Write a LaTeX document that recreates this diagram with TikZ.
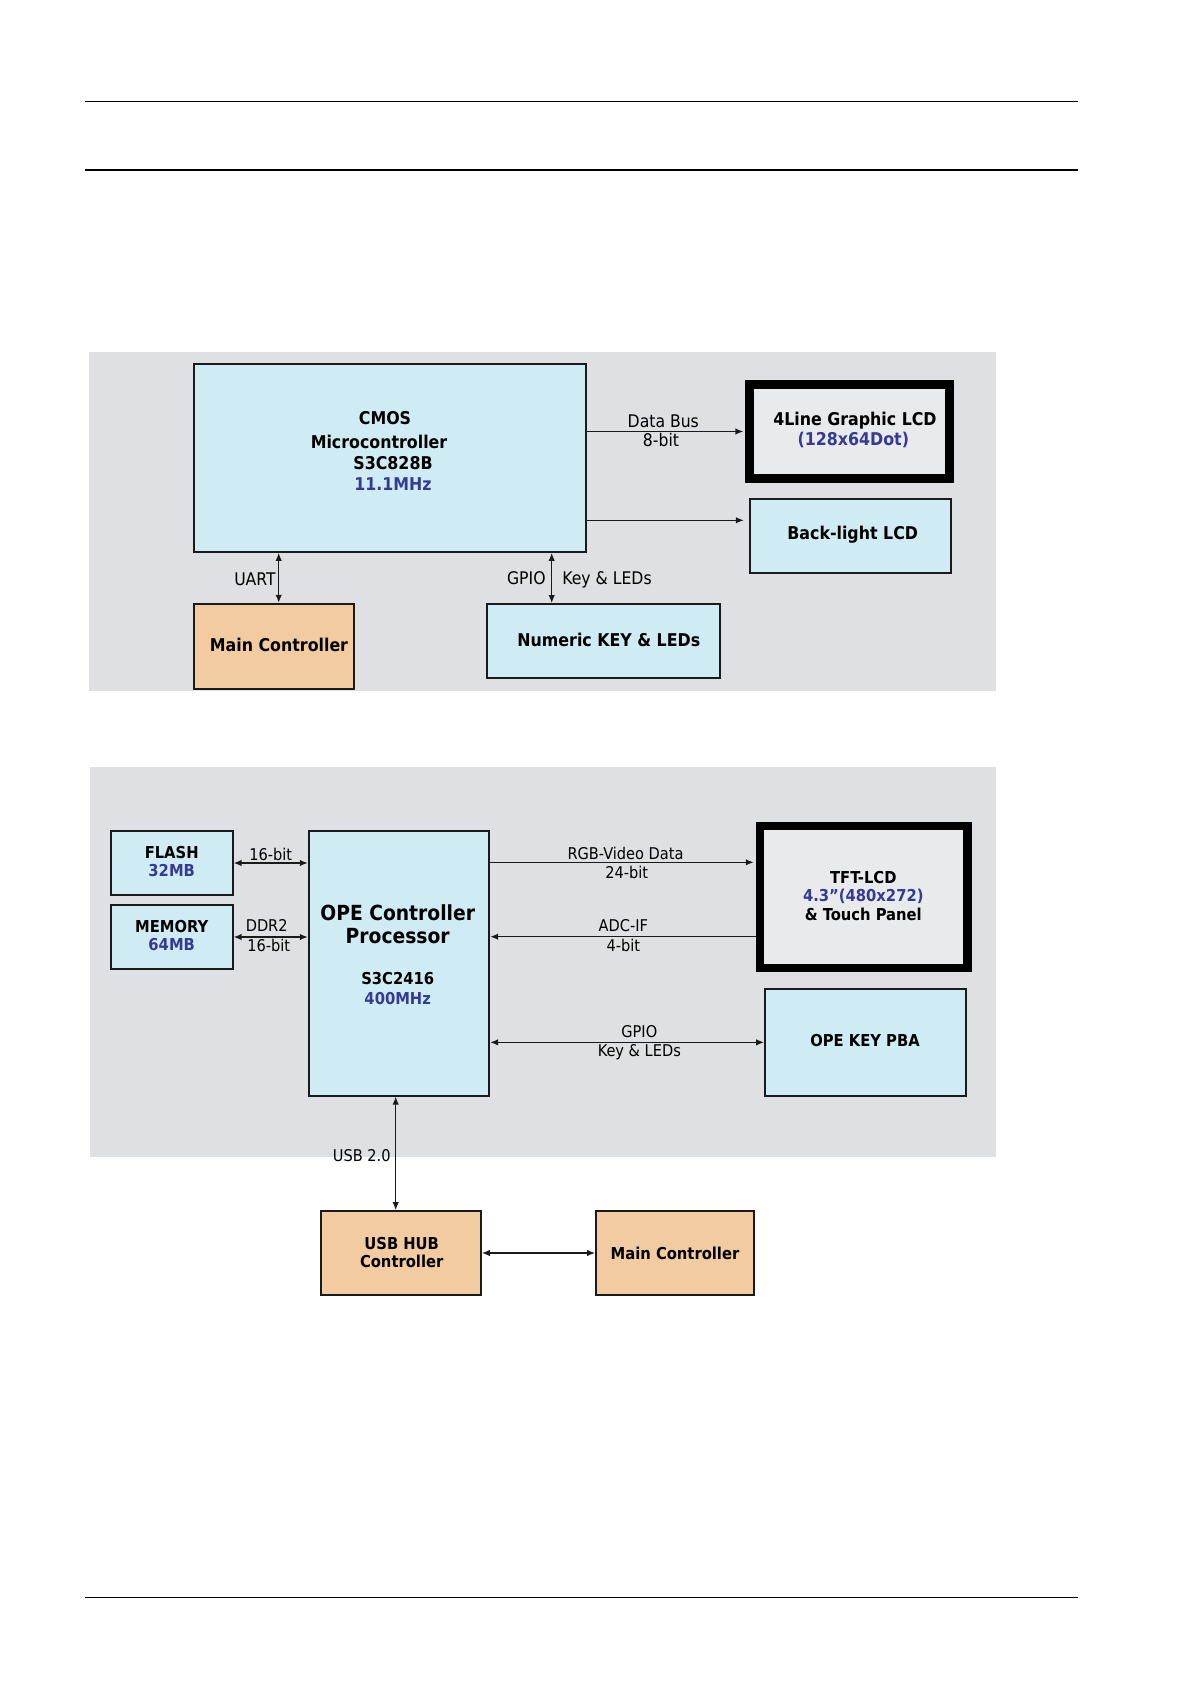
\documentclass[tikz,border=0pt]{standalone}
\usepackage{fontspec}
\setmainfont{DejaVu Sans Condensed}
\usetikzlibrary{arrows.meta,fit,calc}
\definecolor{panelgray}{HTML}{DFE0E4}
\definecolor{boxblue}{HTML}{CFECF4}
\definecolor{boxpeach}{HTML}{F2CBA0}
\definecolor{lcdgray}{HTML}{E9EAEC}
\definecolor{txtblue}{HTML}{343A96}
\definecolor{linedark}{HTML}{1A1A1A}
\begin{document}
\begin{tikzpicture}[x=0.5pt,y=-0.5pt,
  panel/.style={fill=panelgray, draw=none, inner sep=0pt},
  bbox/.style={draw=linedark, line width=0.85pt, fill=boxblue, inner sep=0pt},
  pbox/.style={bbox, fill=boxpeach},
  lcdbox/.style={draw=black, line width=4.3pt, fill=lcdgray, inner sep=0pt},
  conn/.style={line width=0.65pt, draw=linedark},
  >={Latex[length=4pt,width=3.2pt]},
  tb/.style={font=\bfseries\fontsize{8.8}{11}\selectfont, inner sep=0pt},
  bb/.style={font=\bfseries\fontsize{8.2}{9}\selectfont, inner sep=0pt},
  ob/.style={font=\bfseries\fontsize{10.4}{12}\selectfont, inner sep=0pt},
  lt/.style={font=\fontsize{8.7}{9.5}\selectfont, inner sep=0pt},
  lb/.style={font=\fontsize{8.1}{9.5}\selectfont, inner sep=0pt},
  pageline/.style={line width=0.6pt, draw=black}]

\fill[white] (0,0) rectangle (1191,1684);
\useasboundingbox (0,0) rectangle (1191,1684);

% page rules
\draw[pageline] (85,101.3) -- (1078,101.3);
\draw[pageline] (85,170) -- (1078,170);
\draw[pageline] (85,1597.3) -- (1078,1597.3);

% ---------------- top panel ----------------
\node[panel, fit={(89.3,352) (996,690.7)}] (bgA) {};
\node[bbox, fit={(194.3,363.7) (585.7,552)}] (cmos) {};
\node[lcdbox, fit={(749.7,384.6) (949.3,478.4)}] (lcdA) {};
\node[bbox, fit={(749.7,499) (950.7,573.3)}] (backlight) {};
\node[pbox, fit={(194.3,603.7) (354,689)}] (mainA) {};
\node[bbox, fit={(487.3,604) (719.7,677.7)}] (numeric) {};

\node[tb] (cmosA) at (385,417.7) {CMOS};
\node[tb] (cmosB) at (379,441.7) {Microcontroller};
\node[tb] (cmosC) at (393,463) {S3C828B};
\node[tb, text=txtblue] (cmosD) at (393,484) {11.1MHz};
\node[tb] (lcdAa) at (855,421) {4Line Graphic LCD};
\node[tb, text=txtblue] (lcdAb) at (853.3,440) {(128x64Dot)};
\node[tb] (blt) at (852.7,535) {Back-light LCD};
\node[tb] (mainAt) at (279,645) {Main Controller};
\node[tb] (numt) at (608.8,640) {Numeric KEY \& LEDs};

\coordinate (uartx) at (278.7,0);
\coordinate (gpiox) at (551.7,0);
\coordinate (bly) at (0,520.3);
\draw[conn,->,shorten >=1pt] (cmos.east |- lcdA.west) -- (lcdA.west);
\draw[conn,->,shorten >=2.5pt] (cmos.east |- bly) -- (backlight.west |- bly);
\draw[conn,<->] (cmos.south -| uartx) -- (mainA.north -| uartx);
\draw[conn,<->] (cmos.south -| gpiox) -- (numeric.north -| gpiox);

\node[lt, anchor=base] (l1) at (663.3,427.3) {Data Bus};
\node[lt, anchor=base] (l2) at (661,446.3) {8-bit};
\node[lt, anchor=base east] (l3) at (276,585.7) {UART};
\node[lt, anchor=base east] (l4) at (546,584.5) {GPIO};
\node[lt, anchor=base west] (l5) at (562,584.5) {Key \& LEDs};

% ---------------- bottom panel ----------------
\node[panel, fit={(90,766.7) (996,1157.3)}] (bgB) {};
\node[bbox, fit={(110.7,831.3) (232.7,894.7)}] (flash) {};
\node[bbox, fit={(110.7,905.3) (232.7,968.7)}] (memory) {};
\node[bbox, fit={(308.7,831.3) (489.3,1095.7)}] (ope) {};
\node[lcdbox, line width=4.25pt, fit={(760,826) (967.5,968)}] (tft) {};
\node[bbox, fit={(765,989) (965.7,1095.7)}] (opekey) {};
\node[pbox, fit={(321.3,1211) (481,1295)}] (usbhub) {};
\node[pbox, fit={(596,1211) (754,1295)}] (mainB) {};

\node[bb] (flA) at (171.7,853) {FLASH};
\node[bb, text=txtblue] (flB) at (171.7,871) {32MB};
\node[bb] (meA) at (171.7,926.3) {MEMORY};
\node[bb, text=txtblue] (meB) at (171.7,944.7) {64MB};
\node[ob] (opA) at (397.7,912.7) {OPE Controller};
\node[ob] (opB) at (397.7,935.7) {Processor};
\node[bb] (opC) at (397.7,979) {S3C2416};
\node[bb, text=txtblue] (opD) at (397.7,998.7) {400MHz};
\node[bb] (tfA) at (863.3,877.7) {TFT-LCD};
\node[bb, text=txtblue] (tfB) at (863.3,896.3) {4.3”(480x272)};
\node[bb] (tfC) at (863.3,914.3) {\& Touch Panel};
\node[bb] (okt) at (865,1041) {OPE KEY PBA};
\node[bb] (ubA) at (401.7,1243.3) {USB HUB};
\node[bb] (ubB) at (401.7,1261.7) {Controller};
\node[bb] (mainBt) at (675,1253) {Main Controller};

\coordinate (rgby) at (0,862.3);
\coordinate (adcy) at (0,936.7);
\coordinate (usbx) at (395.7,0);
\draw[conn,<->] (flash.east) -- (ope.west |- flash.east);
\draw[conn,<->] (memory.east) -- (ope.west |- memory.east);
\draw[conn,->,shorten >=1pt] (ope.east |- rgby) -- (tft.west |- rgby);
\draw[conn,->] (tft.west |- adcy) -- (ope.east |- adcy);
\draw[conn,<->] (ope.east |- opekey.west) -- (opekey.west);
\draw[conn,<->] (ope.south -| usbx) -- (usbhub.north -| usbx);
\draw[conn,<->] (usbhub.east) -- (mainB.west);

\node[lb, anchor=base] (m1) at (270.7,860.9) {16-bit};
\node[lb, anchor=base] (m2) at (266.7,931.9) {DDR2};
\node[lb, anchor=base] (m3) at (268.7,951.9) {16-bit};
\node[lb, anchor=base] (m4) at (625.5,859.2) {RGB-Video Data};
\node[lb, anchor=base] (m5) at (626.7,878.2) {24-bit};
\node[lb, anchor=base] (m6) at (623.3,931.9) {ADC-IF};
\node[lb, anchor=base] (m7) at (623.3,951.6) {4-bit};
\node[lb, anchor=base] (m8) at (639.3,1037.6) {GPIO};
\node[lb, anchor=base] (m9) at (639.3,1056.9) {Key \& LEDs};
\node[lb, anchor=base east] (m10) at (391,1161.9) {USB 2.0};
\end{tikzpicture}
\end{document}
